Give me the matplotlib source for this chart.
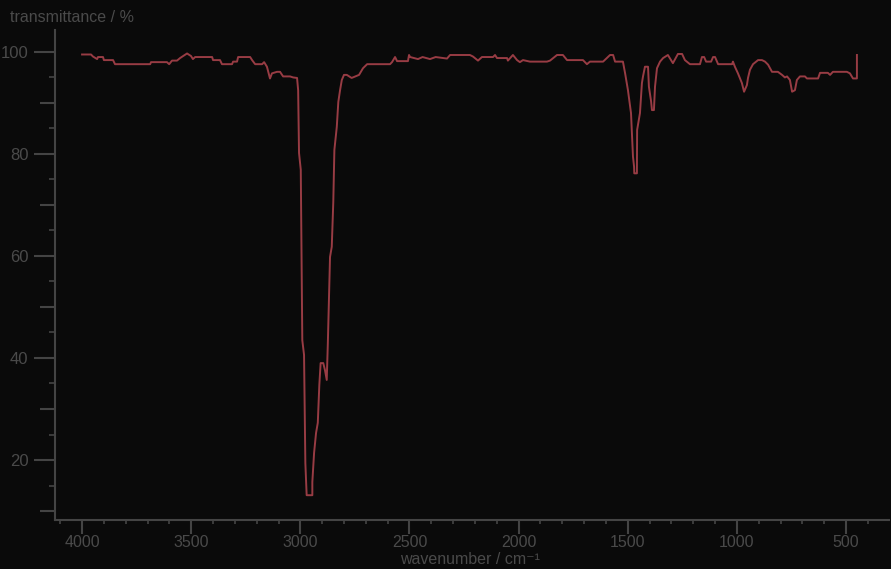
import matplotlib
matplotlib.use("Agg")
import matplotlib.pyplot as plt
from matplotlib.ticker import MultipleLocator, FixedLocator, NullFormatter

# IR spectrum (wavenumber in cm-1, transmittance in %)
wavenumber = [
    4000, 3959, 3950, 3931, 3927, 3904, 3900, 3858, 3849, 3688, 3684, 3611,
    3601, 3588, 3565, 3551, 3519, 3501, 3492, 3482, 3404, 3400, 3368, 3359,
    3313, 3308, 3290, 3285, 3230, 3221, 3207, 3175, 3166, 3153, 3139, 3130,
    3107, 3093, 3079, 3047, 3033, 3015, 3010, 3006, 2998, 2991, 2983, 2977,
    2971, 2945, 2945, 2937, 2928, 2920, 2913, 2907, 2895, 2887, 2879, 2874,
    2864, 2856, 2849, 2844, 2833, 2826, 2818, 2810, 2800, 2787, 2765, 2731,
    2713, 2694, 2589, 2580, 2566, 2557, 2507, 2502, 2497, 2461, 2440, 2406,
    2380, 2328, 2314, 2223, 2209, 2186, 2168, 2117, 2108, 2099, 2053, 2049,
    2026, 2007, 1994, 1980, 1948, 1870, 1856, 1824, 1797, 1778, 1705, 1687,
    1673, 1613, 1581, 1567, 1558, 1522, 1512, 1499, 1485, 1480, 1476, 1471,
    1470, 1458, 1457, 1444, 1435, 1430, 1421, 1407, 1403, 1393, 1389, 1380,
    1375, 1366, 1352, 1338, 1316, 1293, 1270, 1251, 1238, 1215, 1169, 1160,
    1150, 1141, 1118, 1109, 1100, 1086, 1022, 1018, 1009, 995, 977, 967,
    954, 949, 940, 926, 903, 885, 871, 857, 839, 812, 793, 780,
    770, 757, 747, 734, 725, 711, 688, 679, 628, 619, 583, 573,
    560, 496, 482, 468, 450, 450,
]
transmittance = [
    99.5, 99.5, 99.1, 98.6, 99.0, 99.0, 98.4, 98.4, 97.6, 97.6, 98.0, 98.0,
    97.6, 98.3, 98.3, 98.8, 99.7, 99.2, 98.6, 99.0, 99.0, 98.4, 98.4, 97.6,
    97.6, 98.1, 98.1, 99.0, 99.0, 98.4, 97.6, 97.6, 98.0, 97.1, 94.8, 95.8,
    96.1, 96.1, 95.2, 95.2, 95.0, 94.9, 92.5, 80.2, 76.9, 43.5, 40.6, 19.4,
    13.1, 13.1, 15.7, 21.4, 25.3, 27.3, 34.7, 39.0, 39.0, 37.6, 35.7, 42.9,
    59.8, 61.8, 70.6, 80.8, 85.3, 90.2, 92.5, 94.5, 95.5, 95.5, 94.9, 95.5,
    96.8, 97.6, 97.6, 98.0, 99.0, 98.2, 98.2, 99.4, 99.0, 98.6, 99.0, 98.6,
    99.0, 98.7, 99.4, 99.4, 99.1, 98.3, 99.0, 99.0, 99.4, 98.8, 98.8, 98.3,
    99.4, 98.4, 98.0, 98.4, 98.1, 98.1, 98.3, 99.4, 99.4, 98.4, 98.4, 97.6,
    98.1, 98.1, 99.4, 99.4, 98.1, 98.1, 95.8, 92.5, 88.0, 83.4, 79.5, 77.5,
    76.2, 76.2, 84.7, 88.0, 93.9, 95.2, 97.1, 97.1, 93.2, 90.3, 88.6, 88.6,
    93.2, 96.8, 98.1, 98.8, 99.4, 97.8, 99.6, 99.6, 98.4, 97.6, 97.6, 99.0,
    99.0, 98.1, 98.1, 99.0, 99.0, 97.6, 97.6, 98.1, 97.1, 95.8, 93.9, 92.2,
    93.5, 94.9, 96.5, 97.6, 98.4, 98.4, 98.1, 97.5, 96.1, 96.1, 95.5, 95.0,
    95.2, 94.5, 92.2, 92.5, 94.5, 95.2, 95.2, 94.8, 94.8, 95.9, 95.9, 95.5,
    96.1, 96.1, 95.8, 94.8, 94.8, 99.4,
]

x_major = [4000, 3500, 3000, 2500, 2000, 1500, 1000, 500]
y_major = [20, 40, 60, 80, 100]

bg = "#0a0a0a"
fg = "#4a4a4a"
plt.rcParams["font.family"] = ["Liberation Sans", "DejaVu Sans"]

fig = plt.figure(figsize=(8.91, 5.69), dpi=100, facecolor=bg)
ax = fig.add_axes([55 / 891, 49 / 569, 834 / 891, 490 / 569], facecolor=bg)

ax.plot(wavenumber, transmittance, color="#983c44", lw=1.4)

ax.set_xlim(4124, 303)
ax.set_ylim(8.24, 104.3)

for side in ["top", "right"]:
    ax.spines[side].set_visible(False)
for side in ["left", "bottom"]:
    ax.spines[side].set_color("#444444")
    ax.spines[side].set_linewidth(1.5)

ax.xaxis.set_major_locator(FixedLocator(x_major))
ax.xaxis.set_minor_locator(MultipleLocator(100))
ax.yaxis.set_major_locator(FixedLocator(y_major))
ax.yaxis.set_minor_locator(MultipleLocator(10))

ax.tick_params(axis="x", which="major", length=10, width=1.5, color="#444444",
               labelcolor=fg, labelsize=11.5, pad=1)
ax.tick_params(axis="x", which="minor", length=3, width=1.2, color="#444444")
ax.tick_params(axis="y", which="major", length=15, width=1.5, color="#444444",
               labelcolor=fg, labelsize=12, pad=4)
ax.tick_params(axis="y", which="minor", length=11, width=1.5, color="#444444")

# short ticks every 5 %
sec = ax.secondary_yaxis("left")
sec.spines["left"].set_visible(False)
sec.yaxis.set_major_locator(MultipleLocator(5))
sec.yaxis.set_major_formatter(NullFormatter())
sec.tick_params(axis="y", length=4, width=1.2, color="#444444")

fig.text(10 / 891, 1 - 18 / 569, "transmittance / %", color=fg, fontsize=11.5,
         va="center", ha="left")
fig.text(470 / 891, 1 - 559 / 569, "wavenumber / cm⁻¹", color=fg, fontsize=11.5,
         va="center", ha="center", family=["Liberation Sans", "DejaVu Sans"])

fig.savefig("out.png", dpi=100, facecolor=bg)
